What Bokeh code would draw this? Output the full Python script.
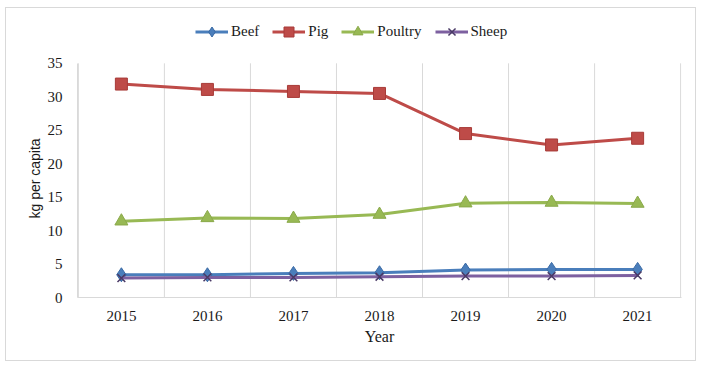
from bokeh.plotting import figure
from bokeh.models import FixedTicker, Legend, LegendItem, Range1d, Title
from bokeh.embed import file_html
from bokeh.resources import INLINE

years = ["2015", "2016", "2017", "2018", "2019", "2020", "2021"]
beef = [3.4, 3.4, 3.6, 3.7, 4.1, 4.2, 4.2]
pig = [31.9, 31.1, 30.8, 30.5, 24.5, 22.8, 23.8]
poultry = [11.4, 11.9, 11.8, 12.4, 14.1, 14.2, 14.05]
sheep = [2.9, 3.0, 3.0, 3.1, 3.2, 3.2, 3.3]
y_ticks = [0, 5, 10, 15, 20, 25, 30, 35]

xs = [i + 0.5 for i in range(len(years))]
bounds = list(range(len(years) + 1))
y_max = y_ticks[-1]

p = figure(width=691, height=354, output_backend="svg", toolbar_location=None,
           x_range=Range1d(-0.01, len(years) + 0.01), y_range=Range1d(0, 41.7),
           min_border_left=71, min_border_right=16, min_border_top=10, min_border_bottom=65)
p.styles = {"border": "1px solid #d9d9d9", "margin-left": "5px", "margin-top": "7px"}
p.outline_line_color = None
p.background_fill_color = "white"
p.border_fill_color = "white"

serif = "Liberation Serif"

p.xaxis.ticker = FixedTicker(ticks=xs)
p.xaxis.major_label_overrides = {x: y for x, y in zip(xs, years)}
p.xaxis.axis_label = "Year"
p.yaxis.ticker = FixedTicker(ticks=y_ticks)
p.yaxis.bounds = (0, y_max)

for ax in (p.xaxis[0], p.yaxis[0]):
    ax.major_tick_line_color = None
    ax.minor_tick_line_color = None
    ax.axis_line_color = "#d9d9d9"
    ax.major_label_text_font = serif
    ax.major_label_text_font_size = "15px"
    ax.major_label_text_color = "#1a1a1a"
    ax.axis_label_text_font_style = "normal"
    ax.axis_label_text_color = "#1a1a1a"

p.xaxis.axis_label_text_font = serif
p.xaxis.axis_label_text_font_size = "16px"
p.xaxis.major_label_standoff = 7
p.xaxis.axis_label_standoff = 4
p.yaxis.major_label_standoff = 9

# y-axis title, centred on the 0-35 span rather than on the whole frame
ytitle = Title(text="kg per capita", align="left", offset=79, standoff=3,
               text_font="Liberation Sans", text_font_size="14px",
               text_font_style="normal", text_color="#1a1a1a")
p.add_layout(ytitle, "left")

p.xgrid.grid_line_color = None
p.ygrid.grid_line_color = None
# vertical separators between year categories, from 0 to the top tick
p.segment(x0=bounds, y0=[0] * len(bounds), x1=bounds, y1=[y_max] * len(bounds),
          line_color="#d9d9d9", line_width=1)

series = [
    ("Beef", beef, "#4a7ebb", "diamond", "#3a6aa5", 14),
    ("Pig", pig, "#be4b48", "square", "#a83b38", 12),
    ("Poultry", poultry, "#98b954", "triangle", "#8aa94a", 13),
    ("Sheep", sheep, "#7d60a0", "x", "#4a3a66", 11),
]

items = []
for name, vals, col, marker, mcol, size in series:
    r1 = p.line(xs, vals, line_color=col, line_width=3)
    if marker == "x":
        r2 = p.scatter(xs, vals, marker=marker, size=size, line_color=mcol, line_width=1.5)
    else:
        r2 = p.scatter(xs, vals, marker=marker, size=size, fill_color=col, line_color=mcol, line_width=1)
    items.append(LegendItem(label=name, renderers=[r1, r2]))

legend = Legend(items=items, orientation="horizontal", location=(118, 253))
legend.label_text_font = serif
legend.label_text_font_size = "15px"
legend.label_text_color = "#1a1a1a"
legend.glyph_width = 33
legend.glyph_height = 25
legend.label_height = 25
legend.spacing = 13
legend.label_standoff = 3
legend.padding = 0
legend.margin = 0
legend.border_line_color = None
legend.background_fill_alpha = 0
p.add_layout(legend, "center")

open("out.html", "w").write(file_html(p, INLINE))
